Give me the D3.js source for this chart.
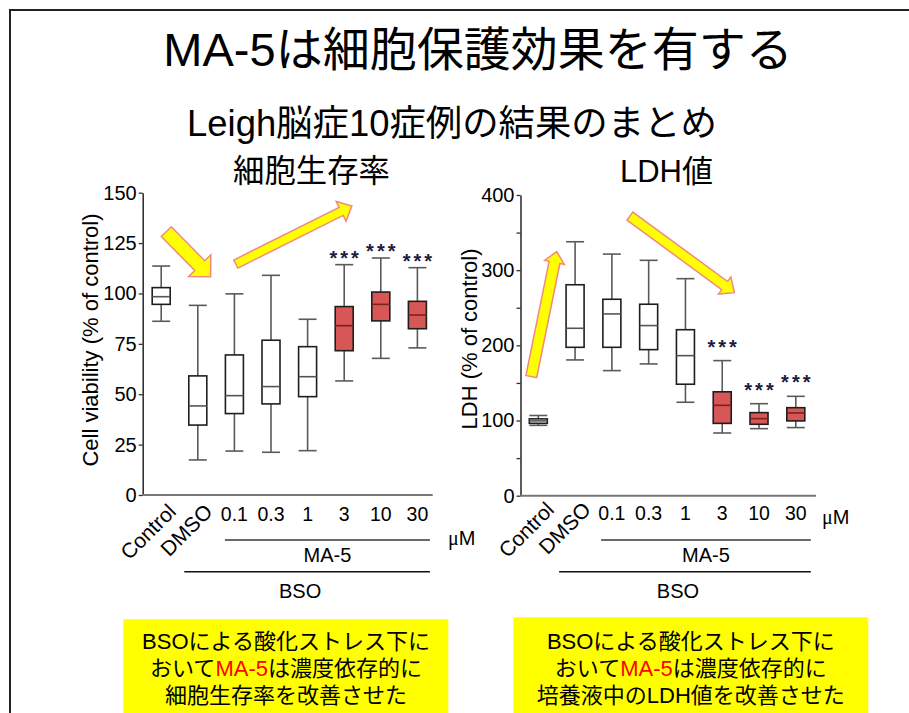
<!DOCTYPE html>
<html>
<head>
<meta charset="utf-8">
<script src="https://cdn.jsdelivr.net/npm/d3@7"></script>
<style>
  html, body { margin: 0; padding: 0; background: #fff; }
  svg { display: block; }
</style>
</head>
<body>
<svg id="chart" width="909" height="713"></svg>
<script>
// ---------------- DATA ----------------
const categories = ["Control", "DMSO", "0.1", "0.3", "1", "3", "10", "30"];
const significant = [false, false, false, false, false, true, true, true];

// Cell viability (% of control) box statistics
const viabilityMin    = [86.2, 17.4, 21.8, 21.2, 22.0, 56.6, 67.8, 73.0];
const viabilityQ1     = [94.6, 34.7, 40.4, 45.2, 48.8, 71.6, 86.4, 82.5];
const viabilityMedian = [98.4, 44.2, 49.3, 53.8, 58.7, 84.0, 94.6, 89.3];
const viabilityQ3     = [102.9, 59.1, 69.5, 76.8, 73.6, 93.5, 100.7, 96.1];
const viabilityMax    = [113.6, 94.1, 99.8, 109.0, 87.2, 114.3, 117.6, 112.8];
const viabilityTicks  = [0, 25, 50, 75, 100, 125, 150];

// LDH (% of control) box statistics
const ldhMin    = [93.6, 180.6, 166.4, 175.3, 124.3, 83.4, 89.2, 90.6];
const ldhQ1     = [96.3, 197.4, 197.4, 194.3, 148.3, 96.2, 95.0, 99.5];
const ldhMedian = [99.5, 222.7, 241.8, 226.3, 186.3, 120.2, 102.5, 110.1];
const ldhQ3     = [102.2, 280.6, 261.3, 254.7, 220.8, 138.2, 110.5, 117.1];
const ldhMax    = [106.7, 337.8, 321.4, 313.1, 288.7, 179.7, 122.4, 132.2];
const ldhTicks  = [0, 50, 100, 150, 200, 250, 300, 350, 400];

// Trend arrows: [tailIndex, tailValue, tipIndex, tipValue]
const viabilityArrows = [[0.14, 130.7, 1.35, 108.3], [2.04, 114.6, 5.21, 143.4]];
const ldhArrows       = [[-0.19, 158.4, 0.50, 324.7], [2.49, 371.9, 5.33, 270.1]];

// Texts
const mainTitle = "MA-5は細胞保護効果を有する";
const subTitle = "Leigh脳症10症例の結果のまとめ";
const leftTitle = "細胞生存率";
const rightTitle = "LDH値";
const leftYLabel = "Cell viability (% of control)";
const rightYLabel = "LDH (% of control)";
const leftNote = [["BSOによる酸化ストレス下に"], ["おいて", "MA-5", "は濃度依存的に"], ["細胞生存率を改善させた"]];
const rightNote = [["BSOによる酸化ストレス下に"], ["おいて", "MA-5", "は濃度依存的に"], ["培養液中のLDH値を改善させた"]];

// ---------------- DRAW ----------------
const FONT = "'Liberation Sans', Arial, 'Noto Sans CJK JP', sans-serif";
const svg = d3.select("#chart");
svg.append("rect").attr("width", 909).attr("height", 713).attr("fill", "#fff");
// slide frame
svg.append("rect").attr("x", 10).attr("y", 10).attr("width", 1000).attr("height", 1000)
  .attr("fill", "none").attr("stroke", "#222").attr("stroke-width", 2);

function txt(x, y, s, size, anchor) {
  return svg.append("text").attr("x", x).attr("y", y).text(s)
    .attr("font-family", FONT).attr("font-size", size)
    .attr("text-anchor", anchor || "middle").attr("fill", "#000");
}

txt(478, 66, mainTitle, 47);
txt(452, 136, subTitle, 36.4);
txt(311.5, 182, leftTitle, 31.4);
txt(666.5, 182, rightTitle, 31);

function arrowPoints(x0, y0, x1, y1, w, L, W) {
  const dx = x1 - x0, dy = y1 - y0, len = Math.hypot(dx, dy);
  const ux = dx / len, uy = dy / len, px = -uy, py = ux;
  const bx = x1 - L * ux, by = y1 - L * uy;
  const pts = [
    [x0 + px * w / 2, y0 + py * w / 2],
    [bx + px * w / 2, by + py * w / 2],
    [bx + px * W / 2, by + py * W / 2],
    [x1, y1],
    [bx - px * W / 2, by - py * W / 2],
    [bx - px * w / 2, by - py * w / 2],
    [x0 - px * w / 2, y0 - py * w / 2]
  ];
  return pts.map(p => p.join(",")).join(" ");
}

function panel(cfg) {
  const x = d3.scalePoint().domain(categories).range(cfg.xRange);
  const xi = d3.scaleLinear().domain([0, categories.length - 1]).range(cfg.xRange);
  const y = d3.scaleLinear().domain(cfg.yDomain).range(cfg.yRange);
  const g = svg.append("g");

  // y axis
  const ax = g.append("g").attr("transform", `translate(${cfg.axisX},0)`)
    .call(d3.axisLeft(y).tickValues(cfg.ticks).tickSize(4).tickPadding(2).tickSizeOuter(0)
      .tickFormat(d => cfg.labelTick(d) ? d : ""));
  ax.select(".domain").attr("stroke", "#333").attr("stroke-width", 1.6);
  ax.selectAll(".tick line").attr("stroke", "#333").attr("stroke-width", 1.3);
  ax.selectAll(".tick text").attr("font-family", FONT).attr("font-size", 20).attr("fill", "#000");

  // x axis baseline
  g.append("line").attr("x1", cfg.axisX).attr("x2", cfg.xEnd)
    .attr("y1", y(0)).attr("y2", y(0)).attr("stroke", "#777").attr("stroke-width", 2);

  // y label
  g.append("text").attr("transform", `translate(${cfg.yLabelX},${cfg.yLabelY}) rotate(-90)`)
    .attr("text-anchor", "middle").attr("font-family", FONT).attr("font-size", 22)
    .text(cfg.yLabel);

  // arrows (behind boxes)
  cfg.arrows.forEach(a => {
    g.append("polygon")
      .attr("points", arrowPoints(xi(a[0]), y(a[1]), xi(a[2]), y(a[3]), a[4], a[5], a[6]))
      .attr("fill", "#ffff00").attr("stroke", "#f08a80").attr("stroke-width", 1.5)
      .attr("stroke-linejoin", "miter");
  });

  const hw = 9;
  categories.forEach((c, i) => {
    const cx = x(c);
    const red = significant[i];
    g.append("line").attr("x1", cx).attr("x2", cx)
      .attr("y1", y(cfg.max[i])).attr("y2", y(cfg.min[i]))
      .attr("stroke", "#5a5a5a").attr("stroke-width", 1.6);
    [cfg.max[i], cfg.min[i]].forEach(v => {
      g.append("line").attr("x1", cx - hw).attr("x2", cx + hw)
        .attr("y1", y(v)).attr("y2", y(v))
        .attr("stroke", "#5a5a5a").attr("stroke-width", 1.6);
    });
    g.append("rect").attr("x", cx - hw).attr("width", hw * 2)
      .attr("y", y(cfg.q3[i])).attr("height", y(cfg.q1[i]) - y(cfg.q3[i]))
      .attr("fill", red ? "#d75656" : "#fff").attr("stroke", "#1e1e1e").attr("stroke-width", 1.6);
    g.append("line").attr("x1", cx - hw).attr("x2", cx + hw)
      .attr("y1", y(cfg.med[i])).attr("y2", y(cfg.med[i]))
      .attr("stroke", red ? "#7a2222" : "#555").attr("stroke-width", 1.6);
    if (red) {
      g.append("text").attr("x", cx + 1.5).attr("y", y(cfg.max[i]) - cfg.starOffset)
        .attr("text-anchor", "middle").attr("font-family", FONT).attr("font-size", 20)
        .attr("letter-spacing", 3).attr("font-weight", "bold")
        .attr("fill", "#1c1c3c").text("***");
    }
    // x labels
    if (i < 2) {
      g.append("text")
        .attr("transform", `translate(${cx + cfg.rotDx},${cfg.rotY}) rotate(-45)`)
        .attr("text-anchor", "end").attr("font-family", FONT).attr("font-size", 21).text(c);
    } else {
      g.append("text").attr("x", cx).attr("y", cfg.numY).attr("text-anchor", "middle")
        .attr("font-family", FONT).attr("font-size", 19.5).text(c);
    }
  });

  // unit
  const u = g.append("text").attr("x", cfg.unitX).attr("y", cfg.unitY)
    .attr("font-family", FONT).attr("font-size", 20);
  u.append("tspan").attr("font-family", "'Liberation Serif', serif").text("μ");
  u.append("tspan").text("M");

  // group brackets
  const maStart = x("0.1") - cfg.maLeft, end = x("30") + cfg.grpRight;
  g.append("line").attr("x1", maStart).attr("x2", end).attr("y1", 540).attr("y2", 540)
    .attr("stroke", "#6a6a6a").attr("stroke-width", 2);
  g.append("text").attr("x", (maStart + end) / 2).attr("y", 562).attr("text-anchor", "middle")
    .attr("font-family", FONT).attr("font-size", 20).text("MA-5");
  const bsoStart = x("DMSO") - cfg.bsoLeft;
  g.append("line").attr("x1", bsoStart).attr("x2", end).attr("y1", 571.7).attr("y2", 571.7)
    .attr("stroke", "#111").attr("stroke-width", 1.5);
  g.append("text").attr("x", (bsoStart + end) / 2 - cfg.bsoShift).attr("y", 598).attr("text-anchor", "middle")
    .attr("font-family", FONT).attr("font-size", 20).text("BSO");
}

panel({
  xRange: [161.2, 417.4], axisX: 142.7, xEnd: 432.7,
  yDomain: [0, 150], yRange: [495, 192.7], ticks: viabilityTicks, labelTick: d => true,
  min: viabilityMin, q1: viabilityQ1, med: viabilityMedian, q3: viabilityQ3, max: viabilityMax,
  yLabel: leftYLabel, yLabelX: 97.5, yLabelY: 340,
  arrows: viabilityArrows.map((a, k) => a.concat(k === 0 ? [14, 15.5, 31] : [9, 12, 22])),
  starOffset: 0, rotDx: 16, rotY: 513, numY: 521,
  unitX: 448, unitY: 545, maLeft: 9.5, grpRight: 12.5, bsoLeft: 13.5, bsoShift: 7
});

panel({
  xRange: [538.3, 795.8], axisX: 520.5, xEnd: 816,
  yDomain: [0, 400], yRange: [495.7, 195], ticks: ldhTicks, labelTick: d => d % 100 === 0,
  min: ldhMin, q1: ldhQ1, med: ldhMedian, q3: ldhQ3, max: ldhMax,
  yLabel: rightYLabel, yLabelX: 477, yLabelY: 339,
  arrows: ldhArrows.map((a, k) => a.concat(k === 0 ? [11, 11, 20] : [10, 12, 21])),
  starOffset: 7, rotDx: 17, rotY: 511, numY: 519.5,
  unitX: 822, unitY: 523.5, maLeft: 10.8, grpRight: 15, bsoLeft: 16, bsoShift: 7
});

// yellow note boxes
function note(x0, y0, x1, cx, lines, size) {
  svg.append("rect").attr("x", x0).attr("y", y0).attr("width", x1 - x0).attr("height", 713 - y0)
    .attr("fill", "#ffff00");
  lines.forEach((parts, k) => {
    const t = svg.append("text").attr("x", cx).attr("y", 649 + k * 27)
      .attr("text-anchor", "middle").attr("font-family", FONT).attr("font-size", size);
    parts.forEach((p, j) => {
      t.append("tspan").attr("fill", (parts.length === 3 && j === 1) ? "#ff0000" : "#000").text(p);
    });
  });
}
note(123.3, 619.3, 448.3, 286, leftNote, 22);
note(513.3, 617.3, 868.3, 690.8, rightNote, 22);
</script>
</body>
</html>
